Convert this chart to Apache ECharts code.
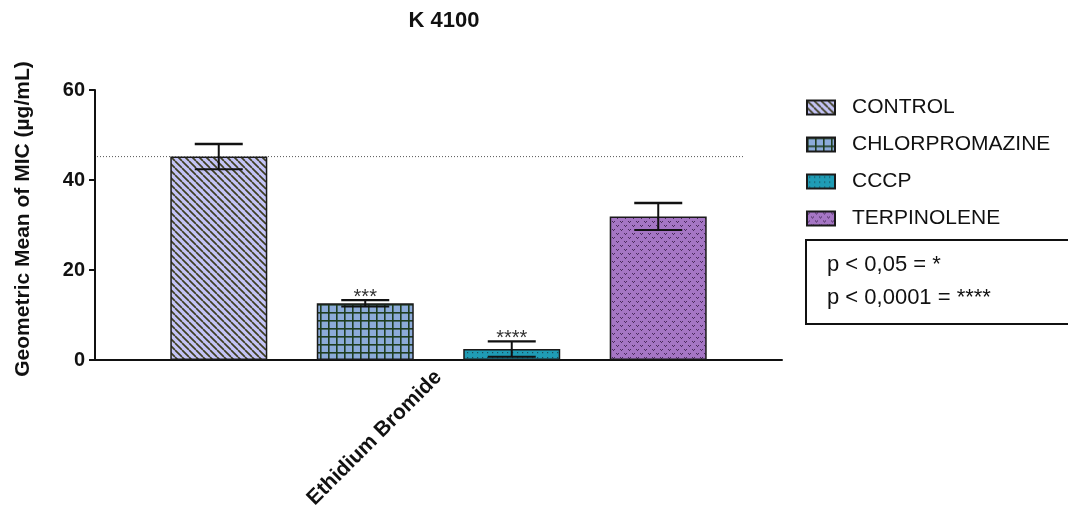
<!DOCTYPE html>
<html>
<head>
<meta charset="utf-8">
<script src="https://cdn.jsdelivr.net/npm/echarts@6/dist/echarts.min.js"></script>
<style>
  html, body { margin: 0; padding: 0; background: #fff; }
  #chart { width: 1068px; height: 508px; }
</style>
</head>
<body>
<div id="chart"></div>
<script>
// Geometric mean MIC of ethidium bromide for strain K 4100, alone and with efflux inhibitors
const categories = ['Ethidium Bromide'];
const groups = ['CONTROL', 'CHLORPROMAZINE', 'CCCP', 'TERPINOLENE'];
const means = [45.2, 12.6, 2.45, 31.9];
const errors = [2.8, 0.7, 1.7, 3.0];
const significance = ['', '***', '****', ''];
const yTicks = { min: 0, max: 60, interval: 20 };
const legendNotes = ['p < 0,05 = *', 'p < 0,0001 = ****'];

const FONT = 'Arial, "Liberation Sans", sans-serif';
const BAR_W = 97;
const BAR_GAP = 49.5;

// Hatch fills for each group
function tile(size, bg, draw) {
  const c = document.createElement('canvas');
  c.width = size; c.height = size;
  const ctx = c.getContext('2d');
  ctx.fillStyle = bg;
  ctx.fillRect(0, 0, size, size);
  draw(ctx, size);
  return { image: c, repeat: 'repeat' };
}

const fills = [
  tile(7, '#c4c4f6', (ctx, s) => {
    ctx.strokeStyle = '#3e3e22';
    ctx.lineWidth = 1.7;
    for (let x = -s; x <= s; x += s) {
      ctx.beginPath();
      ctx.moveTo(x, 0);
      ctx.lineTo(x + s, s);
      ctx.stroke();
    }
  }),
  tile(8, '#8cabd9', (ctx, s) => {
    ctx.fillStyle = '#1f3d20';
    ctx.fillRect(0, 0, s, 1.6);
    ctx.fillRect(0, 0, 1.6, s);
  }),
  tile(5, '#1f9cb5', (ctx, s) => {
    ctx.fillStyle = '#1b4d5a';
    ctx.fillRect(2, 2, 1.2, 1.2);
  }),
  tile(8, '#a576c4', (ctx, s) => {
    ctx.fillStyle = '#4a2b5c';
    const mark = (x, y) => {
      ctx.fillRect(x, y, 1, 1);
      ctx.fillRect(x + 2, y, 1, 1);
      ctx.fillRect(x + 1, y + 1, 1, 1);
    };
    mark(0, 1);
    mark(4, 5);
  })
];

const barSeries = groups.map((name, i) => ({
  name: name,
  type: 'bar',
  barWidth: BAR_W,
  barGap: (BAR_GAP / BAR_W * 100).toFixed(1) + '%',
  data: [means[i]],
  itemStyle: { color: fills[i], borderColor: '#1a1a1a', borderWidth: 1.5 },
  emphasis: { disabled: true },
  z: 2
}));

// Error bars, significance stars and the dotted control-level line
const errorSeries = {
  type: 'custom',
  z: 5,
  silent: true,
  data: means.map((m, i) => [0, m, errors[i], i]),
  renderItem: function (params, api) {
    const i = api.value(3);
    const m = api.value(1);
    const e = api.value(2);
    const base = api.coord([0, m]);
    const n = groups.length;
    const total = n * BAR_W + (n - 1) * BAR_GAP;
    const cx = base[0] - total / 2 + BAR_W / 2 + i * (BAR_W + BAR_GAP);
    const yHi = api.coord([0, m + e])[1];
    const yLo = api.coord([0, m - e])[1];
    const half = 24;
    const stroke = { stroke: '#111', lineWidth: 2 };
    const children = [
      { type: 'line', shape: { x1: cx, y1: yHi, x2: cx, y2: yLo }, style: stroke },
      { type: 'line', shape: { x1: cx - half, y1: yHi, x2: cx + half, y2: yHi }, style: { stroke: '#111', lineWidth: 2.4 } },
      { type: 'line', shape: { x1: cx - half, y1: yLo, x2: cx + half, y2: yLo }, style: stroke }
    ];
    const stars = significance[i];
    if (stars) {
      children.push({
        type: 'text',
        x: cx, y: yHi - 2.5,
        style: { text: stars, fill: '#333', font: '20px ' + FONT, align: 'center', verticalAlign: 'middle' }
      });
    }
    if (i === 0) {
      const cs = params.coordSys;
      const yRef = api.coord([0, means[0]])[1];
      children.push({
        type: 'line',
        z2: -1,
        shape: { x1: cs.x + 2, y1: yRef, x2: cs.x + cs.width - 37, y2: yRef },
        style: { stroke: '#555', lineWidth: 1, lineDash: [1, 2] }
      });
    }
    return { type: 'group', children: children };
  }
};

const chart = echarts.init(document.getElementById('chart'), null, { renderer: 'canvas' });
chart.setOption({
  backgroundColor: '#ffffff',
  animation: false,
  title: {
    text: 'K 4100',
    left: 439,
    top: 5,
    textAlign: 'center',
    textStyle: { fontFamily: FONT, fontWeight: 'bold', fontSize: 22, color: '#111' }
  },
  grid: { left: 95, right: 286, top: 90, bottom: 148, containLabel: false, outerBoundsMode: 'none' },
  legend: {
    data: groups,
    orient: 'vertical',
    left: 806,
    top: 97,
    padding: 0,
    icon: 'rect',
    itemWidth: 28,
    itemHeight: 14,
    itemGap: 16,
    selectedMode: false,
    textStyle: { fontFamily: FONT, fontSize: 21, color: '#111', padding: [0, 0, 0, 12] }
  },
  xAxis: {
    type: 'category',
    data: categories,
    axisLine: { lineStyle: { color: '#111', width: 2 } },
    axisTick: { alignWithLabel: true, length: 8, lineStyle: { color: '#111', width: 2 } },
    axisLabel: { rotate: 45, fontFamily: FONT, fontWeight: 'bold', fontSize: 21, color: '#111', margin: 14 }
  },
  yAxis: {
    type: 'value',
    min: yTicks.min,
    max: yTicks.max,
    interval: yTicks.interval,
    splitLine: { show: false },
    axisLine: { show: true, lineStyle: { color: '#111', width: 2 } },
    axisTick: { show: true, length: 6, lineStyle: { color: '#111', width: 2 } },
    axisLabel: { fontFamily: FONT, fontWeight: 'bold', fontSize: 20, color: '#111', margin: 10 }
  },
  graphic: [
    {
      type: 'text',
      x: 23, y: 219,
      rotation: Math.PI / 2,
      style: {
        text: 'Geometric Mean of MIC (µg/mL)',
        font: 'bold 21px ' + FONT,
        fill: '#111',
        align: 'center',
        verticalAlign: 'middle'
      }
    },
    {
      type: 'rect',
      shape: { x: 806, y: 240, width: 300, height: 84 },
      style: { fill: 'none', stroke: '#111', lineWidth: 2 }
    },
    {
      type: 'text',
      x: 827, y: 265,
      style: { text: legendNotes[0], font: '22px ' + FONT, fill: '#111', verticalAlign: 'middle' }
    },
    {
      type: 'text',
      x: 827, y: 298,
      style: { text: legendNotes[1], font: '22px ' + FONT, fill: '#111', verticalAlign: 'middle' }
    }
  ],
  series: barSeries.concat([errorSeries])
});
</script>
</body>
</html>
